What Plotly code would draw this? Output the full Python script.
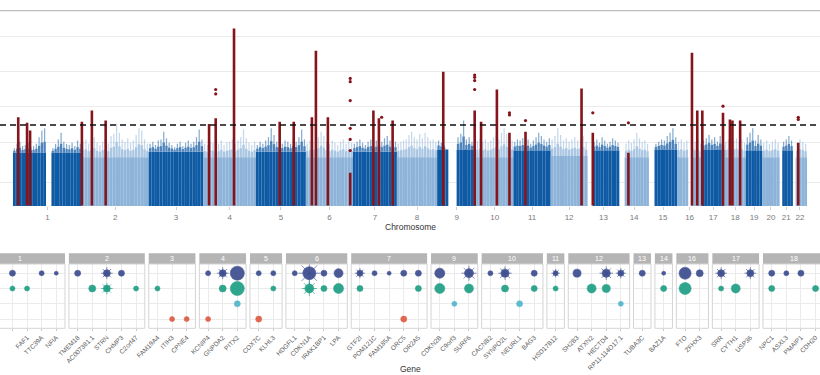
import plotly.graph_objects as go

W, H = 820, 375
FONT = "Liberation Sans, Arial, sans-serif"

# ---------------- Manhattan panel data ----------------
chrom_names = ["1", "2", "3", "4", "5", "6", "7", "8", "9", "10", "11",
               "12", "13", "14", "15", "16", "17", "18", "19", "20", "21", "22"]
chrom_len_mb = [249.25, 243.20, 198.02, 191.15, 180.92, 171.12, 159.14, 146.36,
                141.21, 135.53, 135.01, 133.85, 115.17, 107.35, 102.53, 90.35,
                81.20, 78.08, 59.13, 63.03, 48.13, 51.30]

# upper envelope of the dense SNP cloud (-log10 p), evenly spaced bins per chromosome; 0 = no SNPs
env_1 = [5.2, 5.6, 5.8, 5.4, 5.5, 5.7, 5.3, 5.4, 5.6, 6.2, 6.8, 7.0, 0, 0, 5.2, 5.6, 6.0, 6.6, 5.8, 5.6, 5.5, 5.7, 5.4, 5.9, 5.6]
env_2 = [5.8, 6.0, 5.6, 5.9, 6.2, 5.7, 5.5, 5.8, 6.0, 5.6, 6.3, 6.5, 7.4, 6.6, 6.0, 5.8, 6.1, 5.7, 5.9, 6.4, 7.0, 6.8, 6.0, 5.6]
env_3 = [5.6, 5.8, 5.5, 5.9, 6.0, 6.7, 6.1, 5.7, 5.5, 5.3, 5.6, 5.8, 5.4, 5.7, 5.9, 5.6, 5.8, 6.2, 6.9, 6.0]
env_4 = [5.6, 5.5, 5.8, 5.7, 5.4, 5.6, 5.9, 5.5, 5.7, 5.8, 6.0, 5.6, 5.9, 6.2, 6.9, 6.1, 5.7, 5.5, 5.8]
env_5 = [5.5, 5.8, 5.6, 5.9, 6.2, 7.0, 6.4, 5.8, 5.7, 5.6, 5.9, 5.8, 5.6, 6.0, 5.8, 6.2, 6.9, 6.0]
env_6 = [5.6, 5.9, 5.8, 6.0, 6.2, 6.7, 6.3, 5.8, 5.6, 5.9, 5.7, 5.5, 5.8, 6.0, 5.6, 5.9, 5.7]
env_7 = [5.6, 5.8, 6.0, 5.7, 5.5, 5.8, 6.0, 5.6, 5.9, 6.2, 5.8, 6.1, 6.3, 5.9, 5.6, 5.8]
env_8 = [5.6, 5.8, 5.9, 6.0, 6.4, 6.7, 6.2, 6.0, 6.5, 6.1, 6.6, 6.2, 5.9, 6.0, 5.8]
env_9 = [5.9, 5.7, 5.5, 5.0, 0, 0, 0, 6.2, 6.5, 7.7, 6.0, 6.2, 5.8, 6.0]
env_10 = [5.9, 6.1, 5.8, 6.0, 5.7, 5.9, 6.2, 6.4, 6.0, 6.6, 7.0, 6.5, 6.2, 5.9]
env_11 = [5.8, 6.0, 5.9, 6.1, 5.8, 6.0, 5.6, 5.9, 6.2, 6.6, 6.3, 6.0, 5.8, 6.1]
env_12 = [6.0, 6.3, 7.0, 6.4, 5.9, 6.1, 5.8, 6.0, 6.2, 5.9, 6.1, 6.3, 5.8]
env_13 = [0, 0, 5.8, 6.0, 5.7, 6.2, 5.9, 5.6, 5.8, 6.1, 5.9, 5.7]
env_14 = [0, 0, 5.6, 5.9, 5.7, 6.0, 6.6, 6.1, 5.8, 5.9, 5.6]
env_15 = [0, 0, 5.6, 5.8, 6.0, 5.9, 6.3, 6.6, 7.0, 6.2]
env_16 = [5.8, 6.0, 5.7, 5.9, 0, 6.1, 5.8, 6.0, 5.6]
env_17 = [5.9, 6.1, 6.4, 6.0, 6.2, 5.8, 6.3, 6.0]
env_18 = [5.8, 6.0, 5.7, 5.9, 6.1, 5.8, 6.0, 5.7]
env_19 = [6.2, 6.6, 7.0, 5.9, 6.4, 6.0]
env_20 = [5.7, 5.9, 5.6, 5.8, 6.0, 5.7]
env_21 = [0, 5.8, 6.0, 6.3, 5.9]
env_22 = [0, 5.7, 6.0, 5.8, 5.6]
# level up to which the SNP cloud is solid
bg_body = [4.8, 4.4, 4.9, 4.4, 4.9, 4.4, 4.9, 4.4, 5.1, 4.4, 5.0,
           4.5, 5.0, 4.4, 5.1, 4.4, 5.1, 4.4, 5.0, 4.4, 5.0, 4.4]

# significant loci (red columns): chromosome, position (Mb), top of column (-log10 p)
hit_chr = [1, 1, 1, 2, 2, 2, 4, 4, 4, 5, 5, 6, 6, 6, 6, 7, 7, 7, 9, 9,
           10, 10, 10, 11, 12, 13, 14, 16, 16, 17, 17, 18, 18, 18, 22]
hit_pos_mb = [19.0, 51.0, 62.0, 0.7, 37.0, 87.0, 21.0, 45.0, 111.5, 86.0, 137.0,
              22.0, 36.6, 80.0, 161.0, 74.0, 94.0, 143.8, 22.0, 136.0,
              18.0, 75.4, 121.0, 43.7, 112.0, 19.0, 33.0, 53.8, 73.0, 1.0, 76.0,
              20.0, 29.0, 57.0, 19.5]
hit_top = [8.0, 7.5, 6.8, 7.6, 8.6, 7.7, 7.4, 7.9, 16.0, 7.6, 7.6,
           8.0, 14.0, 8.0, 3.0, 8.6, 7.9, 7.7, 12.1, 8.6,
           7.6, 10.5, 6.6, 6.7, 10.6, 6.6, 4.8, 13.8, 8.6, 8.6, 8.4,
           7.8, 7.7, 7.7, 5.7]
# isolated significant SNPs above/beside the columns
sep_chr = [4, 4, 6, 6, 6, 6, 6, 6, 7, 9, 9, 9, 9, 10, 10, 11, 13, 14, 17, 22, 22]
sep_pos_mb = [45.0, 45.0, 161.0, 161.0, 161.0, 161.0, 161.0, 161.0, 104.0, 136.0, 136.0, 136.0, 136.0,
              121.0, 121.0, 43.7, 19.0, 33.0, 76.0, 19.5, 19.5]
sep_val = [10.5, 10.1, 11.5, 11.2, 9.5, 7.0, 6.0, 5.0, 8.0, 11.8, 11.6, 11.3, 10.5,
           8.4, 8.2, 7.7, 8.4, 7.5, 9.0, 8.0, 7.8]

sig_line = 7.30103
y_grid = [2.16, 5.68, 9.01, 12.16, 15.32]
y_top = 17.6

# ---------------- gene dot-plot data ----------------
row_names = ["Positional mapping", "eQTL mapping", "Chromatin interaction", "Other trait"]
row_colors = ["#3c4d8e", "#1f9e84", "#52b6cc", "#dd5a41"]

facet_chr = ["1", "2", "3", "4", "5", "6", "7", "9", "10", "11", "12", "13", "14", "16", "17", "18"]
genes_1 = ["CASZ1", "CAPZB", "DMRTA2", "FAF1", "TTC39A", "NFIA"]
genes_2 = ["TMEM18", "AC007381.1", "STRN", "CHMP3", "C2orf47"]
genes_3 = ["FAM19A4", "ITIH3", "CPNE4"]
genes_4 = ["KCNIP4", "GNPDA2", "PITX2"]
genes_5 = ["COX7C", "KLHL3"]
genes_6 = ["HDGFL1", "CDKN1A", "IRAK1BP1", "LPA"]
genes_7 = ["GTF2I", "POM121C", "FAM185A", "ORC5", "OR2A5"]
genes_9 = ["CDKN2B", "C9orf3", "SURF6"]
genes_10 = ["CACNB2", "SYNPO2L", "NEURL1", "BAG3"]
genes_11 = ["HSD17B12"]
genes_12 = ["SH2B3", "ATXN2", "HECTD4", "RP11-114O17.1"]
genes_13 = ["TUBA3C"]
genes_14 = ["BAZ1A"]
genes_16 = ["FTO", "ZFHX3"]
genes_17 = ["SRR", "CYTH1", "USP36"]
genes_18 = ["NPC1", "ASXL3", "PMAIP1", "CDH20"]
facet_genes = [genes_1, genes_2, genes_3, genes_4, genes_5, genes_6, genes_7, genes_9,
               genes_10, genes_11, genes_12, genes_13, genes_14, genes_16, genes_17, genes_18]

dot_gene = ["CASZ1", "CAPZB", "DMRTA2", "DMRTA2", "FAF1", "TTC39A", "NFIA",
            "TMEM18", "AC007381.1", "STRN", "STRN", "CHMP3", "C2orf47",
            "FAM19A4", "ITIH3", "CPNE4",
            "KCNIP4", "KCNIP4", "GNPDA2", "GNPDA2", "PITX2", "PITX2", "PITX2",
            "COX7C", "COX7C", "KLHL3", "KLHL3",
            "HDGFL1", "CDKN1A", "CDKN1A", "IRAK1BP1", "IRAK1BP1", "LPA", "LPA",
            "GTF2I", "GTF2I", "POM121C", "FAM185A", "ORC5", "ORC5", "OR2A5", "OR2A5",
            "CDKN2B", "CDKN2B", "C9orf3", "SURF6", "SURF6",
            "CACNB2", "SYNPO2L", "SYNPO2L", "NEURL1", "BAG3", "BAG3",
            "HSD17B12", "HSD17B12",
            "SH2B3", "ATXN2", "HECTD4", "HECTD4", "RP11-114O17.1", "RP11-114O17.1",
            "TUBA3C", "BAZ1A", "BAZ1A",
            "FTO", "FTO", "ZFHX3",
            "SRR", "SRR", "CYTH1", "USP36",
            "NPC1", "NPC1", "ASXL3", "PMAIP1", "CDH20"]
dot_row = [0, 0, 0, 1, 1, 0, 0,
           0, 1, 0, 1, 0, 1,
           1, 3, 3,
           0, 3, 0, 1, 0, 1, 2,
           0, 3, 0, 1,
           0, 0, 1, 0, 1, 0, 1,
           0, 1, 0, 0, 0, 3, 0, 1,
           0, 1, 2, 0, 1,
           0, 0, 1, 2, 0, 1,
           0, 1,
           0, 1, 0, 1, 0, 2,
           0, 0, 1,
           0, 1, 0,
           0, 1, 1, 0,
           0, 1, 0, 0, 1]
dot_score = [7.3, 7.3, 8.3, 7.3, 7.3, 7.3, 6.3,
             8.3, 9.2, 9.2, 9.2, 8.3, 7.3,
             7.3, 7.3, 7.3,
             7.3, 7.3, 9.2, 9.2, 15.9, 15.9, 8.3,
             7.3, 8.3, 7.3, 7.3,
             7.3, 14.9, 11.1, 8.3, 8.3, 11.1, 12.1,
             8.3, 8.3, 7.3, 6.3, 8.3, 8.3, 8.3, 8.3,
             12.1, 12.1, 7.3, 11.1, 11.1,
             7.3, 10.2, 9.2, 8.3, 8.3, 8.3,
             7.3, 7.3,
             10.2, 11.1, 10.2, 10.2, 8.3, 7.3,
             8.3, 6.3, 8.3,
             14.0, 14.0, 9.2,
             9.2, 7.3, 11.1, 9.2,
             8.3, 8.3, 7.3, 8.3, 8.3]
dot_multi = [0, 0, 0, 0, 0, 0, 0,
             0, 0, 1, 1, 0, 0,
             0, 0, 0,
             0, 0, 1, 0, 0, 0, 0,
             0, 0, 0, 0,
             0, 1, 1, 0, 0, 0, 0,
             1, 0, 0, 0, 0, 0, 0, 0,
             0, 0, 0, 1, 0,
             0, 1, 0, 0, 0, 0,
             1, 0,
             0, 0, 1, 0, 1, 0,
             0, 0, 0,
             0, 0, 0,
             1, 0, 0, 1,
             0, 0, 0, 0, 0]

# ---------------- helpers ----------------
def py(p):
    return 1 - p / H

def px(p):
    return p / W

fig = go.Figure()
shapes, annots = [], []

# ---------------- Manhattan ----------------
MB_PX = 0.2756
X_OFF = 13.0
cum = []
acc = 0.0
for L in chrom_len_mb:
    cum.append(acc)
    acc += L
mids = [c + L / 2 for c, L in zip(cum, chrom_len_mb)]

DARK, LIGHT, RED = "#0f5aa4", "#8db3d9", "#85141b"
bg_env = [env_1, env_2, env_3, env_4, env_5, env_6, env_7, env_8, env_9, env_10, env_11,
          env_12, env_13, env_14, env_15, env_16, env_17, env_18, env_19, env_20, env_21, env_22]
for ci, env in enumerate(bg_env):
    n = len(env)
    bw = chrom_len_mb[ci] / n
    xs = [cum[ci] + (k + 0.5) * bw for k in range(n)]
    col = DARK if ci % 2 == 0 else LIGHT
    body = [bg_body[ci] if e > 0 else 0 for e in env]
    fr = [max(e - bg_body[ci], 0) if e > 0 else 0 for e in env]
    lo = [f * 0.45 for f in fr]
    hi = [f * 0.55 for f in fr]
    mid = [b + l for b, l in zip(body, lo)]
    fig.add_bar(x=xs, y=body, width=[bw * 1.02] * n, marker=dict(color=col, line_width=0),
                xaxis="x", yaxis="y", showlegend=False, hoverinfo="skip")
    fig.add_bar(x=xs, y=lo, base=body, width=[bw * 0.85] * n, marker=dict(color=col, line_width=0),
                opacity=0.75, xaxis="x", yaxis="y", showlegend=False, hoverinfo="skip")
    fig.add_bar(x=xs, y=hi, base=mid, width=[bw * 0.45] * n, marker=dict(color=col, line_width=0),
                opacity=0.5, xaxis="x", yaxis="y", showlegend=False, hoverinfo="skip")

hx, hy = [], []
for c, p, t in zip(hit_chr, hit_pos_mb, hit_top):
    x = cum[c - 1] + p
    hx += [x, x, None]
    hy += [0.05, t, None]
fig.add_scatter(x=hx, y=hy, mode="lines", line=dict(color=RED, width=2.6),
                xaxis="x", yaxis="y", showlegend=False, hoverinfo="skip")
fig.add_scatter(x=[cum[c - 1] + p for c, p in zip(sep_chr, sep_pos_mb)], y=sep_val, mode="markers",
                marker=dict(color=RED, size=3.2), xaxis="x", yaxis="y", showlegend=False, hoverinfo="skip")

top_x0 = -X_OFF / MB_PX
top_x1 = (W - X_OFF) / MB_PX
layout = dict(
    xaxis=dict(domain=[0, 1], range=[top_x0, top_x1], tickvals=mids, ticktext=chrom_names,
               showgrid=False, zeroline=False, showline=False, ticks="outside", ticklen=3,
               tickcolor="#cfcfcf", tickfont=dict(size=8, color="#7a7a7a", family=FONT),
               anchor="y", fixedrange=True, automargin=False),
    yaxis=dict(domain=[py(206), py(10.7)], range=[0, y_top], tickvals=y_grid, showticklabels=False,
               showgrid=True, gridcolor="#ebebeb", gridwidth=1, zeroline=False, anchor="x",
               fixedrange=True, automargin=False),
)
shapes.append(dict(type="line", xref="x", yref="y", x0=top_x0, x1=top_x1, y0=sig_line, y1=sig_line,
                   line=dict(color="#111111", width=1.6, dash="6px,4px")))
shapes.append(dict(type="line", xref="paper", yref="paper", x0=0, x1=1, y0=py(10.7), y1=py(10.7),
                   line=dict(color="#bdbdbd", width=1.3)))
annots.append(dict(text="Chromosome", x=px(410), y=py(226.5), xref="paper", yref="paper",
                   xanchor="center", yanchor="middle",
                   showarrow=False, font=dict(size=8.5, color="#333333", family=FONT)))

# ---------------- gene dot plot ----------------
UNIT, GAP = 14.6, 3.9
F1_RIGHT = 65.0
strip_top, strip_bot, panel_bot = 253.3, 264.0, 328.3
left = F1_RIGHT - (len(facet_genes[0]) + 0.2) * UNIT
for fi, genes in enumerate(facet_genes):
    k = fi + 2
    n = len(genes)
    width = (n + 0.2) * UNIT
    right = left + width
    vl, vr = max(left, 0), min(right, W)
    r0 = -0.6 + (vl - left) / UNIT
    r1 = -0.6 + (vr - left) / UNIT
    layout[f"xaxis{k}"] = dict(domain=[px(vl), px(vr)], range=[r0, r1], tickvals=list(range(n)),
                               ticktext=genes, tickangle=-45, showgrid=True, gridcolor="#ebebeb",
                               zeroline=False, showline=False, ticks="outside", ticklen=2,
                               tickcolor="#c8c8c8", tickfont=dict(size=6.5, color="#5a5a5a", family=FONT),
                               anchor=f"y{k}", fixedrange=True, automargin=False)
    layout[f"yaxis{k}"] = dict(domain=[py(panel_bot), py(strip_bot)], range=[3.6, -0.6],
                               tickvals=[0, 1, 2, 3], showticklabels=False, showgrid=True,
                               gridcolor="#ebebeb", zeroline=False, anchor=f"x{k}", fixedrange=True,
                               automargin=False)
    shapes.append(dict(type="rect", xref="paper", yref="paper", x0=px(left), x1=px(right),
                       y0=py(strip_bot), y1=py(strip_top), fillcolor="#b5b5b5", line=dict(width=0)))
    shapes.append(dict(type="rect", xref="paper", yref="paper", x0=px(left), x1=px(right),
                       y0=py(panel_bot), y1=py(strip_bot), fillcolor="rgba(0,0,0,0)",
                       line=dict(color="#d4d4d4", width=1)))
    annots.append(dict(text=facet_chr[fi], x=px((left + right) / 2), y=py((strip_top + strip_bot) / 2),
                       xref="paper", yref="paper", xanchor="center", yanchor="middle", showarrow=False,
                       font=dict(size=7, color="#ffffff", family=FONT)))
    for r in range(4):
        xs, ys, ss, sx, sy, sss = [], [], [], [], [], []
        for g, rr, sc, m in zip(dot_gene, dot_row, dot_score, dot_multi):
            if rr == r and g in genes:
                d = 5 + (sc - 7.3) * 1.05
                xs.append(genes.index(g)); ys.append(r); ss.append(d)
                if m:
                    sx.append(genes.index(g)); sy.append(r); sss.append(d * 1.4)
        if xs:
            fig.add_scatter(x=xs, y=ys, mode="markers", xaxis=f"x{k}", yaxis=f"y{k}",
                            marker=dict(size=ss, color=row_colors[r], opacity=0.92,
                                        line=dict(color=row_colors[r], width=0.6)),
                            showlegend=False, hoverinfo="skip", cliponaxis=False)
        if sx:
            fig.add_scatter(x=sx, y=sy, mode="markers", xaxis=f"x{k}", yaxis=f"y{k}",
                            marker=dict(size=sss, symbol="asterisk-open", color=row_colors[r],
                                        line=dict(color=row_colors[r], width=0.9)),
                            showlegend=False, hoverinfo="skip", cliponaxis=False)
    left = right + GAP

annots.append(dict(text="Gene", x=px(410), y=py(368.5), xref="paper", yref="paper",
                   xanchor="center", yanchor="middle",
                   showarrow=False, font=dict(size=8.5, color="#333333", family=FONT)))

fig.update_layout(**layout)
fig.update_layout(width=W, height=H, margin=dict(l=0, r=0, t=0, b=0, autoexpand=False),
                  paper_bgcolor="white", plot_bgcolor="white", barmode="overlay",
                  shapes=shapes, annotations=annots, showlegend=False,
                  font=dict(family=FONT))
fig.write_html("out.html", config={"displayModeBar": False, "staticPlot": True},
               post_script="document.body.style.margin='0px';document.body.style.padding='0px';"
                           "document.body.style.overflow='hidden';")
